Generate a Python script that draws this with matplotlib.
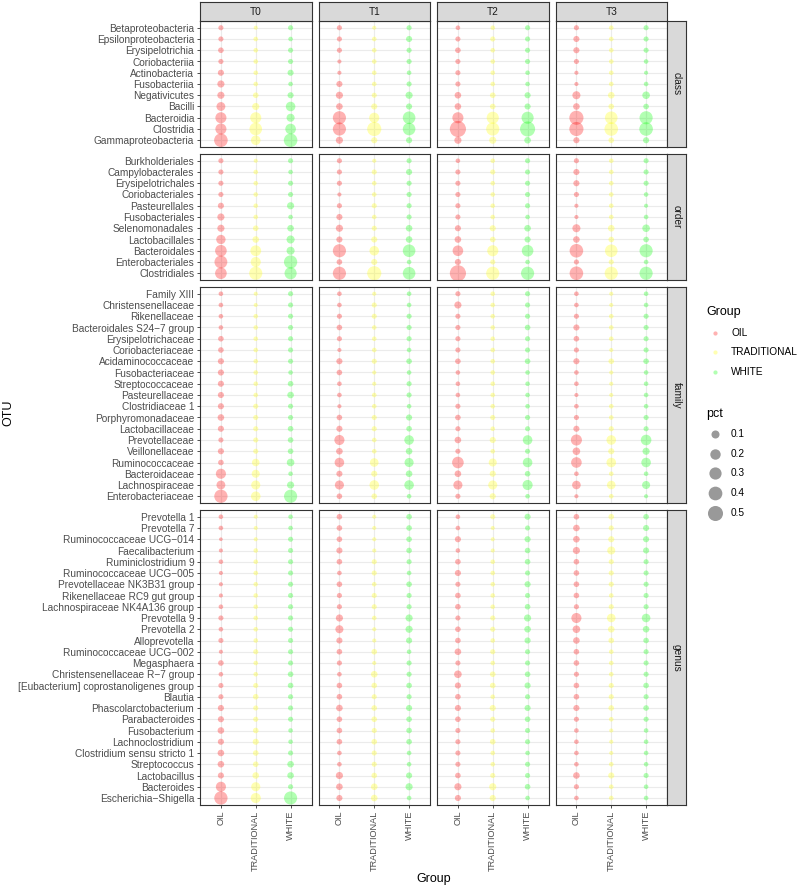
import numpy as np
import matplotlib
matplotlib.use("Agg")
import matplotlib.pyplot as plt

plt.rcParams['font.family'] = ['Liberation Sans', 'DejaVu Sans']

groups = ["OIL", "TRADITIONAL", "WHITE"]
times = ["T0", "T1", "T2", "T3"]
group_colors = ["#FF0000", "#FFFF00", "#00FF00"]
pct_breaks = [0.1, 0.2, 0.3, 0.4, 0.5]

# OTU names, listed top to bottom as they appear
class_otu = ["Betaproteobacteria", "Epsilonproteobacteria", "Erysipelotrichia", "Coriobacteriia",
             "Actinobacteria", "Fusobacteriia", "Negativicutes", "Bacilli", "Bacteroidia",
             "Clostridia", "Gammaproteobacteria"]
order_otu = ["Burkholderiales", "Campylobacterales", "Erysipelotrichales", "Coriobacteriales",
             "Pasteurellales", "Fusobacteriales", "Selenomonadales", "Lactobacillales",
             "Bacteroidales", "Enterobacteriales", "Clostridiales"]
family_otu = ["Family XIII", "Christensenellaceae", "Rikenellaceae", "Bacteroidales S24\u22127 group",
              "Erysipelotrichaceae", "Coriobacteriaceae", "Acidaminococcaceae", "Fusobacteriaceae",
              "Streptococcaceae", "Pasteurellaceae", "Clostridiaceae 1", "Porphyromonadaceae",
              "Lactobacillaceae", "Prevotellaceae", "Veillonellaceae", "Ruminococcaceae",
              "Bacteroidaceae", "Lachnospiraceae", "Enterobacteriaceae"]
genus_otu = ["Prevotella 1", "Prevotella 7", "Ruminococcaceae UCG\u2212014", "Faecalibacterium",
             "Ruminiclostridium 9", "Ruminococcaceae UCG\u2212005", "Prevotellaceae NK3B31 group",
             "Rikenellaceae RC9 gut group", "Lachnospiraceae NK4A136 group", "Prevotella 9",
             "Prevotella 2", "Alloprevotella", "Ruminococcaceae UCG\u2212002", "Megasphaera",
             "Christensenellaceae R\u22127 group", "[Eubacterium] coprostanoligenes group", "Blautia",
             "Phascolarctobacterium", "Parabacteroides", "Fusobacterium", "Lachnoclostridium",
             "Clostridium sensu stricto 1", "Streptococcus", "Lactobacillus", "Bacteroides",
             "Escherichia\u2212Shigella"]

# pct values: rows = OIL, TRADITIONAL, WHITE
class_T0 = [[0.023, 0.023, 0.032, 0.023, 0.043, 0.07, 0.07, 0.13, 0.235, 0.235, 0.39],
            [0.009, 0.015, 0.015, 0.015, 0.015, 0.015, 0.032, 0.07, 0.235, 0.325, 0.16],
            [0.023, 0.015, 0.023, 0.023, 0.043, 0.015, 0.043, 0.16, 0.10, 0.21, 0.39]]
class_T1 = [[0.023, 0.023, 0.023, 0.009, 0.009, 0.043, 0.07, 0.055, 0.36, 0.36, 0.07],
            [0.009, 0.015, 0.015, 0.015, 0.015, 0.015, 0.023, 0.043, 0.185, 0.43, 0.043],
            [0.023, 0.043, 0.023, 0.023, 0.015, 0.023, 0.07, 0.043, 0.325, 0.325, 0.043]]
class_T2 = [[0.015, 0.023, 0.032, 0.023, 0.023, 0.023, 0.055, 0.055, 0.235, 0.59, 0.07],
            [0.015, 0.023, 0.015, 0.015, 0.015, 0.015, 0.032, 0.032, 0.295, 0.36, 0.07],
            [0.023, 0.023, 0.023, 0.023, 0.015, 0.015, 0.043, 0.043, 0.295, 0.50, 0.055]]
class_T3 = [[0.023, 0.043, 0.043, 0.023, 0.009, 0.009, 0.10, 0.055, 0.43, 0.43, 0.043],
            [0.015, 0.015, 0.015, 0.015, 0.015, 0.015, 0.055, 0.032, 0.325, 0.39, 0.032],
            [0.023, 0.023, 0.023, 0.015, 0.009, 0.015, 0.084, 0.032, 0.36, 0.39, 0.043]]

order_T0 = [[0.023, 0.023, 0.023, 0.023, 0.043, 0.07, 0.07, 0.15, 0.265, 0.34, 0.265],
            [0.009, 0.015, 0.015, 0.015, 0.015, 0.015, 0.032, 0.055, 0.22, 0.185, 0.36],
            [0.023, 0.015, 0.023, 0.023, 0.07, 0.015, 0.055, 0.10, 0.10, 0.37, 0.295]]
order_T1 = [[0.023, 0.023, 0.023, 0.009, 0.023, 0.043, 0.07, 0.043, 0.36, 0.032, 0.36],
            [0.009, 0.023, 0.015, 0.015, 0.023, 0.015, 0.023, 0.043, 0.16, 0.043, 0.43],
            [0.023, 0.043, 0.023, 0.023, 0.023, 0.023, 0.055, 0.055, 0.325, 0.015, 0.325]]
order_T2 = [[0.015, 0.023, 0.023, 0.023, 0.023, 0.023, 0.043, 0.055, 0.21, 0.043, 0.59],
            [0.015, 0.023, 0.015, 0.015, 0.015, 0.015, 0.043, 0.032, 0.235, 0.023, 0.36],
            [0.023, 0.023, 0.023, 0.023, 0.023, 0.015, 0.055, 0.043, 0.265, 0.015, 0.36]]
order_T3 = [[0.023, 0.043, 0.043, 0.023, 0.009, 0.009, 0.10, 0.055, 0.39, 0.023, 0.39],
            [0.015, 0.015, 0.015, 0.015, 0.015, 0.015, 0.055, 0.032, 0.325, 0.023, 0.36],
            [0.023, 0.023, 0.023, 0.015, 0.009, 0.015, 0.084, 0.032, 0.36, 0.015, 0.36]]

family_T0 = [[0.015, 0.015, 0.015, 0.015, 0.032, 0.032, 0.043, 0.043, 0.043, 0.043, 0.043, 0.055, 0.043,
              0.023, 0.043, 0.032, 0.185, 0.13, 0.37],
             [0.009, 0.009, 0.015, 0.015, 0.015, 0.015, 0.015, 0.015, 0.015, 0.015, 0.023, 0.023, 0.023,
              0.023, 0.023, 0.084, 0.10, 0.14, 0.16],
             [0.023, 0.023, 0.023, 0.023, 0.023, 0.023, 0.023, 0.015, 0.032, 0.055, 0.023, 0.023, 0.032,
              0.032, 0.032, 0.084, 0.015, 0.07, 0.36]]
family_T1 = [[0.015, 0.015, 0.023, 0.032, 0.023, 0.009, 0.043, 0.032, 0.015, 0.015, 0.009, 0.032, 0.043,
              0.185, 0.055, 0.16, 0.043, 0.14, 0.032],
             [0.009, 0.023, 0.023, 0.015, 0.015, 0.015, 0.023, 0.009, 0.009, 0.015, 0.015, 0.023, 0.023,
              0.015, 0.015, 0.12, 0.043, 0.16, 0.032],
             [0.015, 0.015, 0.023, 0.023, 0.023, 0.015, 0.032, 0.015, 0.023, 0.023, 0.015, 0.043, 0.032,
              0.16, 0.055, 0.14, 0.055, 0.16, 0.015]]
family_T2 = [[0.023, 0.07, 0.023, 0.023, 0.023, 0.023, 0.032, 0.015, 0.015, 0.015, 0.023, 0.032, 0.023,
              0.055, 0.023, 0.265, 0.055, 0.14, 0.023],
             [0.015, 0.015, 0.015, 0.015, 0.015, 0.015, 0.015, 0.015, 0.015, 0.015, 0.015, 0.023, 0.015,
              0.043, 0.015, 0.10, 0.043, 0.14, 0.043],
             [0.023, 0.023, 0.023, 0.032, 0.023, 0.023, 0.032, 0.015, 0.015, 0.015, 0.015, 0.023, 0.023,
              0.16, 0.023, 0.16, 0.032, 0.185, 0.015]]
family_T3 = [[0.015, 0.015, 0.023, 0.043, 0.032, 0.023, 0.043, 0.015, 0.015, 0.009, 0.015, 0.023, 0.043,
              0.235, 0.084, 0.21, 0.015, 0.12, 0.009],
             [0.009, 0.009, 0.015, 0.015, 0.015, 0.009, 0.032, 0.009, 0.009, 0.009, 0.015, 0.015, 0.023,
              0.16, 0.043, 0.16, 0.015, 0.12, 0.015],
             [0.015, 0.015, 0.023, 0.023, 0.023, 0.023, 0.032, 0.015, 0.015, 0.015, 0.015, 0.023, 0.023,
              0.21, 0.07, 0.16, 0.015, 0.10, 0.009]]

genus_T0 = [[0.015, 0.015, 0.005, 0.009, 0.015, 0.009, 0.009, 0.009, 0.015, 0.023, 0.015, 0.023, 0.009,
             0.032, 0.015, 0.023, 0.023, 0.043, 0.043, 0.055, 0.043, 0.055, 0.055, 0.043, 0.185, 0.37],
            [0.009, 0.009, 0.009, 0.015, 0.015, 0.015, 0.015, 0.015, 0.015, 0.015, 0.015, 0.015, 0.023,
             0.015, 0.015, 0.023, 0.032, 0.023, 0.023, 0.032, 0.043, 0.032, 0.032, 0.055, 0.14, 0.185],
            [0.015, 0.015, 0.023, 0.023, 0.023, 0.023, 0.023, 0.023, 0.023, 0.023, 0.023, 0.023, 0.023,
             0.023, 0.032, 0.032, 0.023, 0.023, 0.023, 0.015, 0.015, 0.023, 0.055, 0.055, 0.023, 0.36]]
genus_T1 = [[0.032, 0.032, 0.032, 0.043, 0.032, 0.015, 0.032, 0.023, 0.023, 0.07, 0.10, 0.043, 0.032,
             0.023, 0.015, 0.032, 0.032, 0.055, 0.032, 0.032, 0.032, 0.015, 0.015, 0.07, 0.055, 0.043],
            [0.009, 0.009, 0.009, 0.009, 0.023, 0.023, 0.015, 0.023, 0.023, 0.015, 0.009, 0.009, 0.032,
             0.009, 0.055, 0.032, 0.023, 0.032, 0.032, 0.023, 0.032, 0.023, 0.023, 0.032, 0.055, 0.055],
            [0.032, 0.032, 0.032, 0.032, 0.023, 0.015, 0.032, 0.023, 0.023, 0.07, 0.07, 0.043, 0.015,
             0.023, 0.023, 0.032, 0.023, 0.043, 0.032, 0.032, 0.032, 0.015, 0.015, 0.043, 0.07, 0.015]]
genus_T2 = [[0.015, 0.015, 0.043, 0.015, 0.032, 0.043, 0.023, 0.032, 0.032, 0.023, 0.032, 0.032, 0.055,
             0.023, 0.084, 0.043, 0.032, 0.043, 0.032, 0.023, 0.023, 0.023, 0.023, 0.032, 0.07, 0.043],
            [0.023, 0.009, 0.009, 0.009, 0.015, 0.015, 0.015, 0.015, 0.015, 0.023, 0.023, 0.015, 0.023,
             0.015, 0.032, 0.032, 0.015, 0.043, 0.023, 0.015, 0.032, 0.015, 0.015, 0.023, 0.07, 0.043],
            [0.043, 0.023, 0.043, 0.032, 0.032, 0.023, 0.043, 0.023, 0.032, 0.07, 0.055, 0.043, 0.023,
             0.023, 0.032, 0.043, 0.023, 0.043, 0.032, 0.023, 0.023, 0.015, 0.023, 0.023, 0.032, 0.015]]
genus_T3 = [[0.032, 0.055, 0.055, 0.07, 0.032, 0.032, 0.032, 0.032, 0.023, 0.185, 0.084, 0.055, 0.032,
             0.032, 0.023, 0.032, 0.032, 0.043, 0.023, 0.015, 0.015, 0.015, 0.015, 0.055, 0.023, 0.015],
            [0.032, 0.023, 0.043, 0.10, 0.023, 0.023, 0.023, 0.015, 0.023, 0.12, 0.055, 0.032, 0.015,
             0.015, 0.015, 0.023, 0.023, 0.032, 0.015, 0.009, 0.009, 0.009, 0.015, 0.043, 0.015, 0.015],
            [0.032, 0.043, 0.043, 0.043, 0.023, 0.023, 0.023, 0.023, 0.023, 0.12, 0.055, 0.032, 0.023,
             0.023, 0.023, 0.032, 0.023, 0.032, 0.023, 0.015, 0.015, 0.015, 0.015, 0.023, 0.015, 0.015]]

ranks = [
    ("class", class_otu, [class_T0, class_T1, class_T2, class_T3]),
    ("order", order_otu, [order_T0, order_T1, order_T2, order_T3]),
    ("family", family_otu, [family_T0, family_T1, family_T2, family_T3]),
    ("genus", genus_otu, [genus_T0, genus_T1, genus_T2, genus_T3]),
]


def marker_area(v):
    # area-type size scale: diameter grows with sqrt(pct)
    d_px = 2.4 + 17.9 * np.sqrt(np.asarray(v, dtype=float))
    return (d_px * 0.72) ** 2


W, H = 800, 888
fig = plt.figure(figsize=(W / 100, H / 100), dpi=100)


def px_axes(x, y, w, h):
    return fig.add_axes([x / W, 1 - (y + h) / H, w / W, h / H])


col_left = [200, 318.5, 437, 555.5]
col_w = 111.5
unit = 11.25
gap = 7
strip_h = 19
border = "#333333"
dot_alpha = 0.3

top = 21
for r, (rank, otus, panels) in enumerate(ranks):
    n = len(otus)
    h = (n + 0.2) * unit
    ypos = np.arange(n)[::-1]
    for c, t in enumerate(times):
        ax = px_axes(col_left[c], top, col_w, h)
        ax.set_xlim(-0.6, 2.6)
        ax.set_ylim(-0.6, n - 0.4)
        ax.set_axisbelow(True)
        ax.grid(True, color="#EBEBEB", lw=0.8)
        for g in range(3):
            ax.scatter(np.full(n, g), ypos, s=marker_area(panels[c][g]),
                       color=group_colors[g], alpha=dot_alpha, linewidths=0, zorder=3)
        ax.set_xticks(range(3))
        ax.set_yticks(ypos)
        for sp in ax.spines.values():
            sp.set_color(border)
            sp.set_linewidth(0.8)
        if c == 0:
            ax.set_yticklabels(otus)
            ax.tick_params(axis="y", length=2.4, width=0.6, color=border,
                           labelsize=7.3, labelcolor="#4D4D4D", pad=1.8)
        else:
            ax.tick_params(axis="y", left=False, labelleft=False)
        if r == len(ranks) - 1:
            ax.set_xticklabels(groups, rotation=90)
            ax.tick_params(axis="x", length=2.4, width=0.6, color=border,
                           labelsize=6.6, labelcolor="#4D4D4D", pad=1.8)
        else:
            ax.tick_params(axis="x", bottom=False, labelbottom=False)

        if r == 0:
            sax = px_axes(col_left[c], 2, col_w, strip_h)
            sax.set_facecolor("#D9D9D9")
            sax.set_xticks([])
            sax.set_yticks([])
            for sp in sax.spines.values():
                sp.set_color(border)
                sp.set_linewidth(0.8)
            sax.text(0.5, 0.5, t, ha="center", va="center", fontsize=7.3,
                     color="#1A1A1A", transform=sax.transAxes)

    rax = px_axes(667, top, strip_h, h)
    rax.set_facecolor("#D9D9D9")
    rax.set_xticks([])
    rax.set_yticks([])
    for sp in rax.spines.values():
        sp.set_color(border)
        sp.set_linewidth(0.8)
    rax.text(0.5, 0.5, rank, ha="center", va="center", rotation=-90, fontsize=7.3,
             color="#1A1A1A", transform=rax.transAxes)
    top += h + gap

# axis titles
fig.text(8 / W, 1 - 413 / H, "OTU", rotation=90, ha="center", va="center", fontsize=9)
fig.text(433.5 / W, 1 - 879 / H, "Group", ha="center", va="center", fontsize=9)

# legends
lax = px_axes(690, 290, 110, 240)
lax.set_xlim(690, 800)
lax.set_ylim(530, 290)
lax.axis("off")
lax.text(706, 312, "Group", ha="left", va="center", fontsize=9)
for g, name in enumerate(groups):
    yk = 333 + g * 19.5
    lax.scatter([715], [yk], s=(4.2 * 0.72) ** 2, color=group_colors[g], alpha=dot_alpha, linewidths=0)
    lax.text(731, yk, name, ha="left", va="center", fontsize=7.3)
lax.text(706, 414, "pct", ha="left", va="center", fontsize=9)
for i, b in enumerate(pct_breaks):
    yk = 434 + i * 19.7
    lax.scatter([715], [yk], s=marker_area(b), color="black", alpha=0.4, linewidths=0)
    lax.text(731, yk, f"{b:.1f}", ha="left", va="center", fontsize=7.3)

fig.savefig("out.png", dpi=100)
